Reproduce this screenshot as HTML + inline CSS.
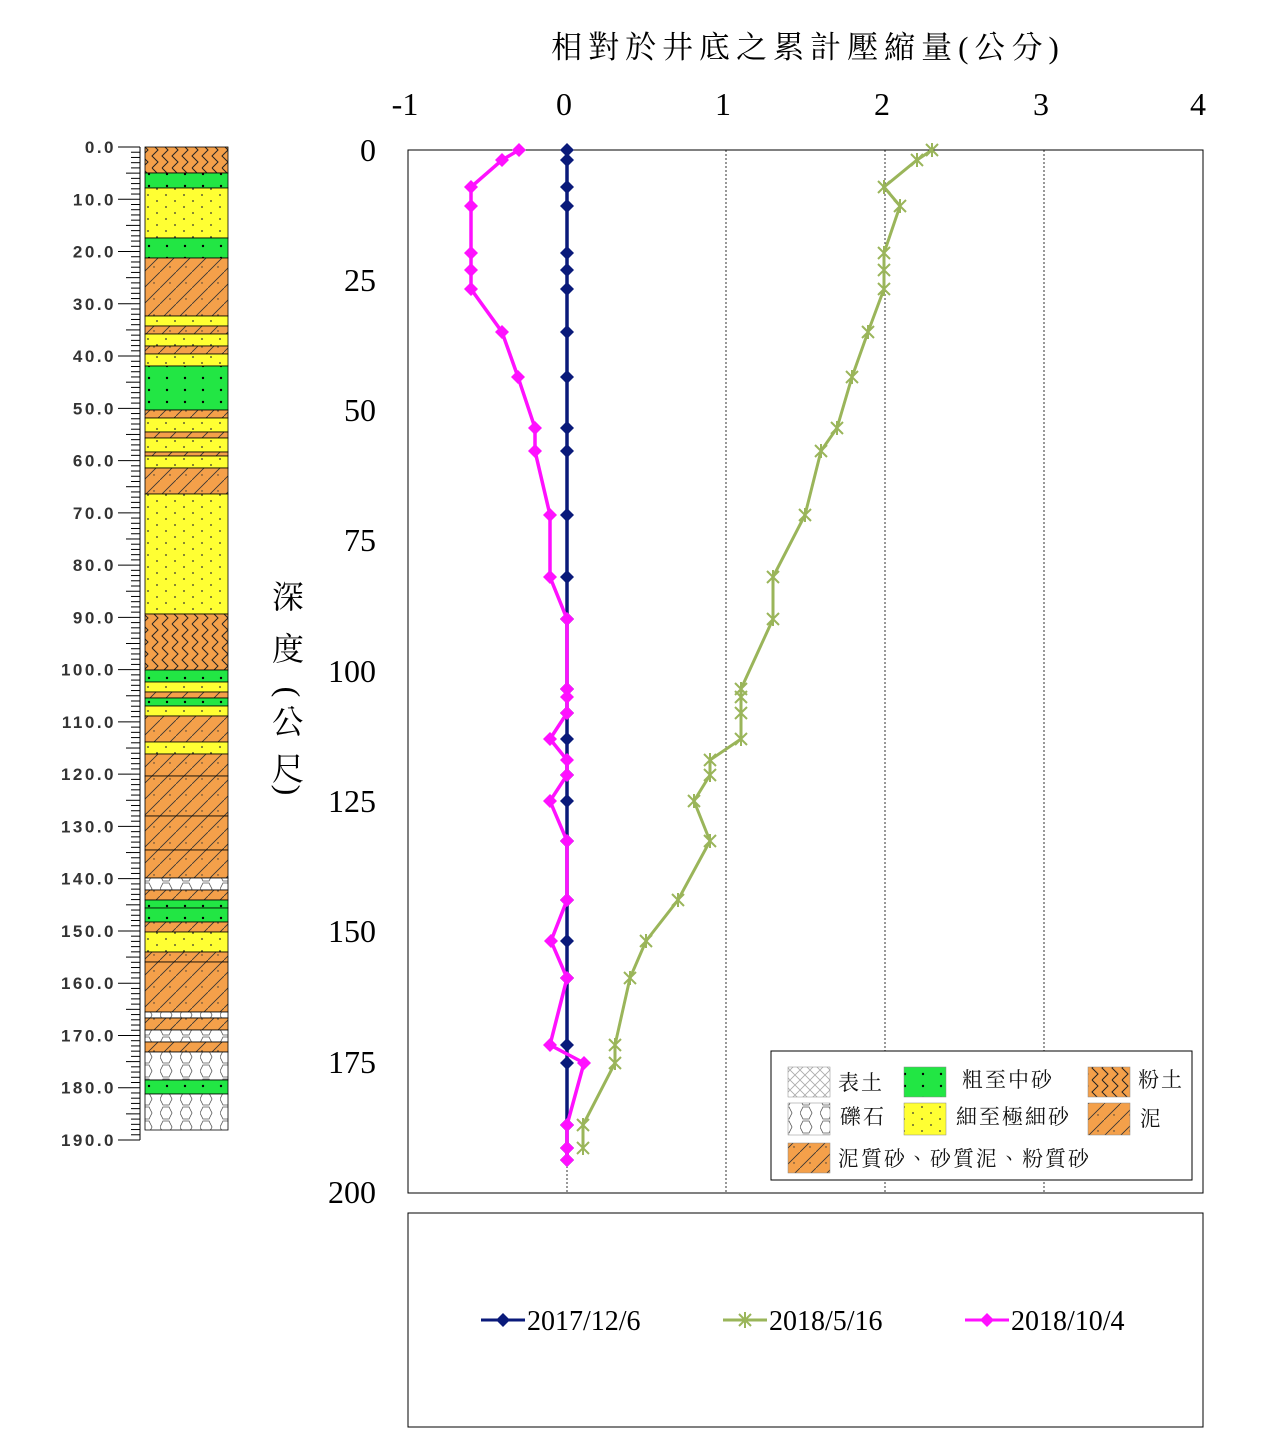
<!DOCTYPE html>
<html><head><meta charset="utf-8"><style>
body{margin:0;background:#fff;}
svg{display:block;font-family:"Liberation Serif","Noto Serif CJK SC",serif;}
</style></head><body>
<svg width="1262" height="1440" viewBox="0 0 1262 1440" xmlns="http://www.w3.org/2000/svg">
<defs>
<pattern id="silt" width="20" height="24" patternUnits="userSpaceOnUse"><rect width="20" height="24" fill="#f4a04a"/><path d="M2 0 l6 6 l-6 6 l6 6 l-6 6 M12 0 l6 6 l-6 6 l6 6 l-6 6" stroke="#222" fill="none" stroke-width="1"/></pattern>
<pattern id="mud" width="16" height="16" patternUnits="userSpaceOnUse"><rect width="16" height="16" fill="#f4a04a"/><path d="M0 16 L16 0" stroke="#333" stroke-width="0.8"/><circle cx="10" cy="11" r="0.7" fill="#333"/></pattern>
<pattern id="yel" width="18" height="12" patternUnits="userSpaceOnUse"><rect width="18" height="12" fill="#ffff33"/><circle cx="4" cy="3" r="0.9" fill="#333"/><circle cx="13" cy="9" r="0.9" fill="#333"/></pattern>
<pattern id="grn" width="18" height="12" patternUnits="userSpaceOnUse"><rect width="18" height="12" fill="#22e644"/><circle cx="5" cy="6" r="1.2" fill="#000"/></pattern>
<pattern id="grav" width="20" height="14" patternUnits="userSpaceOnUse"><rect width="20" height="14" fill="#fff"/><path d="M3 1 h6 l3 6 l-3 6 h-6 l-3 -6z" stroke="#555" fill="none" stroke-width="0.8"/></pattern>
<pattern id="top" width="10" height="10" patternUnits="userSpaceOnUse"><rect width="10" height="10" fill="#fff"/><path d="M0 0 L10 10 M10 0 L0 10" stroke="#aaa" stroke-width="0.8"/></pattern>
</defs>

<g stroke="#000" stroke-width="0.8">
<rect x="145" y="147" width="83" height="26" fill="url(#silt)"/>
<rect x="145" y="173" width="83" height="15" fill="url(#grn)"/>
<rect x="145" y="188" width="83" height="50" fill="url(#yel)"/>
<rect x="145" y="238" width="83" height="20" fill="url(#grn)"/>
<rect x="145" y="258" width="83" height="58" fill="url(#mud)"/>
<rect x="145" y="316" width="83" height="10" fill="url(#yel)"/>
<rect x="145" y="326" width="83" height="8" fill="url(#mud)"/>
<rect x="145" y="334" width="83" height="12" fill="url(#yel)"/>
<rect x="145" y="346" width="83" height="8" fill="url(#mud)"/>
<rect x="145" y="354" width="83" height="12" fill="url(#yel)"/>
<rect x="145" y="366" width="83" height="44" fill="url(#grn)"/>
<rect x="145" y="410" width="83" height="8" fill="url(#mud)"/>
<rect x="145" y="418" width="83" height="14" fill="url(#yel)"/>
<rect x="145" y="432" width="83" height="6" fill="url(#mud)"/>
<rect x="145" y="438" width="83" height="14" fill="url(#yel)"/>
<rect x="145" y="452" width="83" height="4" fill="url(#mud)"/>
<rect x="145" y="456" width="83" height="12" fill="url(#yel)"/>
<rect x="145" y="468" width="83" height="26" fill="url(#mud)"/>
<rect x="145" y="494" width="83" height="120" fill="url(#yel)"/>
<rect x="145" y="614" width="83" height="56" fill="url(#silt)"/>
<rect x="145" y="670" width="83" height="12" fill="url(#grn)"/>
<rect x="145" y="682" width="83" height="10" fill="url(#yel)"/>
<rect x="145" y="692" width="83" height="6" fill="url(#mud)"/>
<rect x="145" y="698" width="83" height="8" fill="url(#grn)"/>
<rect x="145" y="706" width="83" height="10" fill="url(#yel)"/>
<rect x="145" y="716" width="83" height="26" fill="url(#mud)"/>
<rect x="145" y="742" width="83" height="12" fill="url(#yel)"/>
<rect x="145" y="754" width="83" height="22" fill="url(#mud)"/>
<rect x="145" y="776" width="83" height="40" fill="url(#mud)"/>
<rect x="145" y="816" width="83" height="34" fill="url(#mud)"/>
<rect x="145" y="850" width="83" height="28" fill="url(#mud)"/>
<rect x="145" y="878" width="83" height="12" fill="url(#grav)"/>
<rect x="145" y="890" width="83" height="10" fill="url(#mud)"/>
<rect x="145" y="900" width="83" height="8" fill="url(#grn)"/>
<rect x="145" y="908" width="83" height="14" fill="url(#grn)"/>
<rect x="145" y="922" width="83" height="10" fill="url(#mud)"/>
<rect x="145" y="932" width="83" height="20" fill="url(#yel)"/>
<rect x="145" y="952" width="83" height="10" fill="url(#mud)"/>
<rect x="145" y="962" width="83" height="50" fill="url(#mud)"/>
<rect x="145" y="1012" width="83" height="6" fill="url(#grav)"/>
<rect x="145" y="1018" width="83" height="12" fill="url(#mud)"/>
<rect x="145" y="1030" width="83" height="12" fill="url(#grav)"/>
<rect x="145" y="1042" width="83" height="10" fill="url(#mud)"/>
<rect x="145" y="1052" width="83" height="28" fill="url(#grav)"/>
<rect x="145" y="1080" width="83" height="14" fill="url(#grn)"/>
<rect x="145" y="1094" width="83" height="36" fill="url(#grav)"/>
</g>
<line x1="140" y1="147" x2="140" y2="1140" stroke="#000" stroke-width="1"/>
<g id="rul" stroke="#000" stroke-width="1"></g>
<g id="rullab" font-family="Liberation Sans,sans-serif" font-size="17" font-weight="bold" fill="#333" text-anchor="end" letter-spacing="2.5"></g>

<text x="808" y="58" font-size="31" letter-spacing="6" text-anchor="middle" font-family="Liberation Serif,Noto Serif CJK TC,serif">相對於井底之累計壓縮量(公分)</text>
<g font-size="32" text-anchor="middle">
<text x="405" y="115">-1</text><text x="564" y="115">0</text><text x="723" y="115">1</text><text x="882" y="115">2</text><text x="1041" y="115">3</text><text x="1198" y="115">4</text>
</g>
<g font-size="32" text-anchor="end">
<text x="376" y="161">0</text><text x="376" y="291">25</text><text x="376" y="421">50</text><text x="376" y="551">75</text><text x="376" y="682">100</text><text x="376" y="812">125</text><text x="376" y="942">150</text><text x="376" y="1073">175</text><text x="376" y="1203">200</text>
</g>
<g font-size="32" text-anchor="middle" font-family="Liberation Serif,Noto Serif CJK TC,serif">
<text x="288" y="608">深</text><text x="288" y="660">度</text><text x="288" y="702" transform="rotate(90 288 692)">(</text><text x="288" y="733">公</text><text x="288" y="780">尺</text><text x="288" y="800" transform="rotate(90 288 790)">)</text>
</g>
<g stroke="#000" stroke-width="0.8" stroke-dasharray="2,2">
<line x1="567" y1="150" x2="567" y2="1193"/><line x1="726" y1="150" x2="726" y2="1193"/><line x1="885" y1="150" x2="885" y2="1193"/><line x1="1044" y1="150" x2="1044" y2="1193"/>
</g>
<rect x="408" y="150" width="795" height="1043" fill="none" stroke="#000" stroke-width="1"/>

<polyline fill="none" stroke="#9ab55a" stroke-width="3" points="932,150 917,160 884,187 900,206 884,253 884,270 884,289 868,332 852,377 837,428 821,451 805,515 773,577 773,619 741,689 741,697 741,713 741,739 710,760 710,775 694,801 710,841 678,900 646,941 630,978 615,1045 615,1063 583,1125 583,1148"/>
<g id="gm" stroke="#9ab55a" stroke-width="2"></g>
<polyline fill="none" stroke="#0a1a7a" stroke-width="3.5" points="567,150 567,1160"/>
<g id="nm" fill="#0a1a7a"></g>
<polyline fill="none" stroke="#ff10ff" stroke-width="3.5" points="519,150 502,160 471,187 471,206 471,253 471,270 471,289 502,332 518,377 535,428 535,451 550,515 550,577 567,619 567,689 567,697 567,713 550,739 567,760 567,775 550,801 567,841 567,900 551,941 567,978 550,1045 584,1063 567,1125 567,1148 567,1160"/>
<g id="pm" fill="#ff10ff"></g>

<rect x="771" y="1051" width="421" height="129" fill="#fff" stroke="#000"/>
<g stroke="#888" stroke-width="0.5">
<rect x="788" y="1067" width="42" height="30" fill="url(#top)"/>
<rect x="904" y="1067" width="42" height="30" fill="url(#grn)"/>
<rect x="1088" y="1067" width="42" height="30" fill="url(#silt)"/>
<rect x="788" y="1103" width="42" height="32" fill="url(#grav)"/>
<rect x="904" y="1103" width="42" height="32" fill="url(#yel)"/>
<rect x="1088" y="1103" width="42" height="32" fill="url(#mud)"/>
<rect x="788" y="1143" width="42" height="30" fill="url(#mud)"/>
</g>
<g font-size="21" fill="#111" font-family="Liberation Serif,Noto Serif CJK TC,serif" letter-spacing="2">
<text x="838" y="1090">表土</text><text x="962" y="1087">粗至中砂</text><text x="1138" y="1087">粉土</text>
<text x="840" y="1124">礫石</text><text x="956" y="1124">細至極細砂</text><text x="1140" y="1126">泥</text>
<text x="838" y="1166">泥質砂、砂質泥、粉質砂</text>
</g>

<rect x="408" y="1213" width="795" height="214" fill="#fff" stroke="#000"/>
<line x1="481" y1="1320" x2="525" y2="1320" stroke="#0a1a7a" stroke-width="3"/>
<path d="M503 1313 l7 7 l-7 7 l-7 -7z" fill="#0a1a7a"/>
<text x="527" y="1330" font-size="28">2017/12/6</text>
<line x1="723" y1="1320" x2="767" y2="1320" stroke="#9ab55a" stroke-width="3"/>
<path d="M739 1314 l12 12 M751 1314 l-12 12 M745 1312 v16" stroke="#9ab55a" stroke-width="2"/>
<text x="769" y="1330" font-size="28">2018/5/16</text>
<line x1="965" y1="1320" x2="1009" y2="1320" stroke="#ff10ff" stroke-width="3"/>
<path d="M987 1313 l7 7 l-7 7 l-7 -7z" fill="#ff10ff"/>
<text x="1011" y="1330" font-size="28">2018/10/4</text>

<script>
(function(){
var ns="http://www.w3.org/2000/svg";
function el(t,a,p){var e=document.createElementNS(ns,t);for(var k in a)e.setAttribute(k,a[k]);p.appendChild(e);return e;}
var r=document.getElementById("rul"),l=document.getElementById("rullab");
for(var m=0;m<=190;m++){var y=147+m*(993/190);var len=m%10==0?22:(m%5==0?14:9);el("line",{x1:140-len,y1:y,x2:140,y2:y},r);
if(m%10==0){var t=el("text",{x:116,y:y+6},l);t.textContent=m.toFixed(1);}}
function dia(g,pts){pts.forEach(function(p){el("path",{d:"M"+p[0]+" "+(p[1]-7)+" l7 7 l-7 7 l-7 -7z"},g);});}
var nav=[150,160,187,206,253,270,289,332,377,428,451,515,577,619,689,713,739,775,801,841,900,941,978,1045,1063,1125,1148,1160].map(function(y){return[567,y];});
dia(document.getElementById("nm"),nav);
var pk=[[519,150],[502,160],[471,187],[471,206],[471,253],[471,270],[471,289],[502,332],[518,377],[535,428],[535,451],[550,515],[550,577],[567,619],[567,689],[567,697],[567,713],[550,739],[567,760],[567,775],[550,801],[567,841],[567,900],[551,941],[567,978],[550,1045],[584,1063],[567,1125],[567,1148],[567,1160]];
dia(document.getElementById("pm"),pk);
var gr=[[932,150],[917,160],[884,187],[900,206],[884,253],[884,270],[884,289],[868,332],[852,377],[837,428],[821,451],[805,515],[773,577],[773,619],[741,689],[741,697],[741,713],[741,739],[710,760],[710,775],[694,801],[710,841],[678,900],[646,941],[630,978],[615,1045],[615,1063],[583,1125],[583,1148]];
var g=document.getElementById("gm");
gr.forEach(function(p){el("path",{d:"M"+(p[0]-6)+" "+(p[1]-6)+" l12 12 M"+(p[0]+6)+" "+(p[1]-6)+" l-12 12 M"+p[0]+" "+(p[1]-7)+" v14"},g);});
})();
</script>
</svg>
</body></html>
